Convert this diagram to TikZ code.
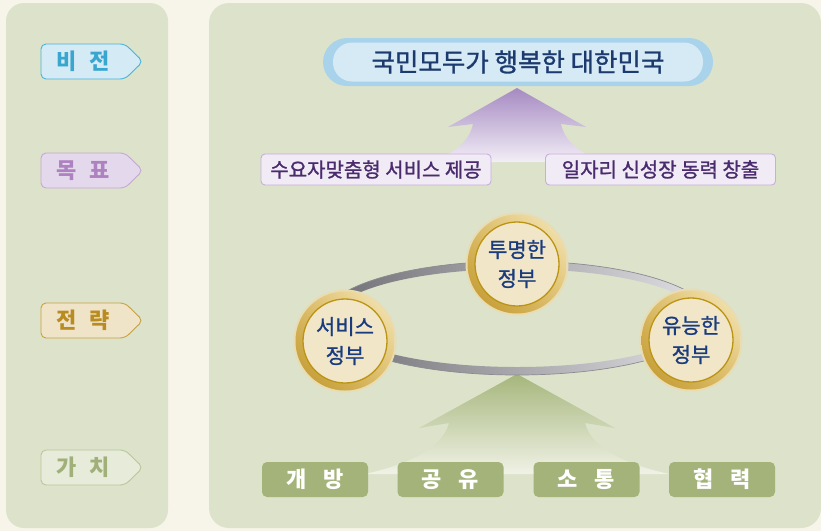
\documentclass[tikz,border=0pt]{standalone}
\usepackage{fontspec}
\setmainfont{Noto Sans CJK KR}
\newfontfamily\krmed{Noto Sans CJK KR}[FakeBold=1.2]
\usetikzlibrary{calc,shadings}
\definecolor{cream}{HTML}{F7F5EA}
\definecolor{panel}{HTML}{DCE3CA}
\definecolor{visfill}{HTML}{D4EAF5}
\definecolor{visdraw}{HTML}{4BB3D8}
\definecolor{vistext}{HTML}{38A6CF}
\definecolor{goalfill}{HTML}{E4D9EC}
\definecolor{goaldraw}{HTML}{C4A8D4}
\definecolor{goaltext}{HTML}{AE82C0}
\definecolor{strfill}{HTML}{F0E4C8}
\definecolor{strdraw}{HTML}{C8A040}
\definecolor{strtext}{HTML}{B88C20}
\definecolor{valfill}{HTML}{E6EBDA}
\definecolor{valdraw}{HTML}{B8C898}
\definecolor{valtext}{HTML}{A0B078}
\definecolor{capouter}{HTML}{A8D3EA}
\definecolor{capinner}{HTML}{D5EAF5}
\definecolor{navy}{HTML}{1C3A6E}
\definecolor{gbfill}{HTML}{F1EBF5}
\definecolor{gbdraw}{HTML}{C7AFD9}
\definecolor{gbtext}{HTML}{4A2C6E}
\definecolor{purtop}{HTML}{A68AC2}
\definecolor{purbot}{HTML}{F2EEF6}
\definecolor{grntop}{HTML}{A6B67C}
\definecolor{grnbot}{HTML}{F0F2E6}
\definecolor{vbox}{HTML}{A3B37A}
\definecolor{ringdark}{HTML}{6E6E74}
\definecolor{ringlight}{HTML}{E2E2E6}
\definecolor{goldlight}{HTML}{F7EAC0}
\definecolor{goldmid}{HTML}{DDBE6A}
\definecolor{golddark}{HTML}{BF9528}
\definecolor{goldedge}{HTML}{E9DCB2}
\definecolor{discfill}{HTML}{F2E6C9}
\definecolor{discdraw}{HTML}{BC9414}
\definecolor{circtext}{HTML}{1A3C7E}
\newcommand\sidetag[6]{%
  \path[draw=#4, fill=#3, line width=0.9pt, rounded corners=5] (41,#2) -- (125,#2) -- (143,#2+17.5) -- (125,#2+35) -- (41,#2+35) -- cycle;
  \node[text=#5, font=\fontsize{22}{24}\selectfont\bfseries] (#1) at (83,#2+17.5) {#6};}
\newcommand\govcircle[4]{%
  \fill[goldedge] (#2,#3) circle (51.5);
  \shade[upper right=goldlight, lower left=golddark, upper left=goldmid, lower right=goldmid] (#2,#3) circle (49.5);
  \node[circle, fill=discfill, draw=discdraw, line width=1.3pt, minimum size=84pt, inner sep=0pt, text=circtext, align=center, font=\krmed\fontsize{21}{29}\selectfont] (#1) at (#2,#3) {#4};}
\tikzset{
  goalbox/.style={draw=gbdraw, fill=gbfill, line width=0.9pt, rounded corners=4, minimum width=230pt, minimum height=31pt, text=gbtext, font=\krmed\fontsize{20}{22}\selectfont, inner sep=0pt},
  valbox/.style={fill=vbox, rounded corners=5, minimum width=106pt, minimum height=35pt, text=white, font=\fontsize{22}{24}\selectfont\bfseries, inner sep=0pt}
}
\begin{document}
\begin{tikzpicture}[x=1pt,y=-1pt]
\useasboundingbox (0,0) rectangle (821,531);
\fill[cream] (0,0) rectangle (821,531);
\fill[panel, rounded corners=18] (6,3) rectangle (168,528);
\fill[panel, rounded corners=20] (209,3) rectangle (821,528);
% side tags
\sidetag{tagvision}{44}{visfill}{visdraw}{vistext}{비\hspace{13pt}전}
\sidetag{taggoal}{153}{goalfill}{goaldraw}{goaltext}{목\hspace{13pt}표}
\sidetag{tagstrat}{303}{strfill}{strdraw}{strtext}{전\hspace{13pt}략}
\sidetag{tagvalue}{450}{valfill}{valdraw}{valtext}{가\hspace{13pt}치}
% vision capsule
\fill[capouter, rounded corners=24] (323,38) rectangle (713,86);
\node[fill=capinner, rounded corners=19, minimum width=370pt, minimum height=39pt, inner sep=0pt, text=navy, font=\krmed\fontsize{25.5}{28}\selectfont] (vision) at (518,62) {국민모두가 행복한 대한민국};
% purple arrow
\shade[top color=purtop, bottom color=purbot] (517,88) -- (448,127) -- (473,124) .. controls (469,142) and (455,152) .. (432,162) -- (602,162) .. controls (579,152) and (565,142) .. (561,124) -- (586,127) -- cycle;
\node[goalbox] (goal1) at (376,169.5) {수요자맞춤형 서비스 제공};
\node[goalbox] (goal2) at (660.5,169.5) {일자리 신성장 동력 창출};
% green arrow
\shade[top color=grntop, bottom color=grnbot] (517,374) -- (419,428) -- (449,423) .. controls (442,450) and (405,465) .. (365,474) -- (669,474) .. controls (629,465) and (592,450) .. (585,423) -- (615,428) -- cycle;
% ring
\shade[left color=ringdark, right color=ringlight, even odd rule] (517,318) ellipse (193 and 57) (517,318) ellipse (184 and 49);
\draw[ringdark!80, line width=0.7pt] (517,318) ellipse (193 and 57);
% circles
\govcircle{transp}{517}{264}{투명한\\정부}
\govcircle{service}{345}{341}{서비스\\정부}
\govcircle{capable}{691}{340}{유능한\\정부}
% value boxes
\node[valbox] (open) at (315,479.5) {개\hspace{17pt}방};
\node[valbox] (share) at (450.5,479.5) {공\hspace{17pt}유};
\node[valbox] (comm) at (586.5,479.5) {소\hspace{17pt}통};
\node[valbox] (coop) at (722,479.5) {협\hspace{17pt}력};
\end{tikzpicture}
\end{document}
